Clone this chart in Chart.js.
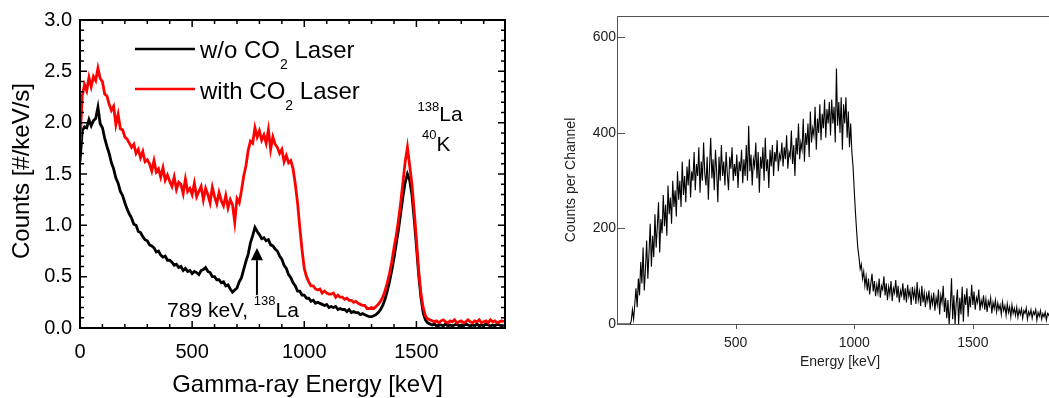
<!DOCTYPE html>
<html lang="en">

<head>
  <meta charset="UTF-8" />
  <title>Gamma-ray spectra</title>
  <style>
    html,
    body {
      margin: 0;
      padding: 0;
      background: #fff;
      overflow: hidden;
    }

    body {
      position: relative;
      width: 1049px;
      height: 398px;
    }

    .panel {
      position: absolute;
      top: 0;
    }

    #leftPanel {
      left: 0;
    }

    #rightPanel {
      left: 560px;
    }
  </style>
</head>

<body>
  <div class="panel" id="leftPanel"><canvas id="leftChart" width="520" height="398"></canvas></div>
  <div class="panel" id="rightPanel"><canvas id="rightChart" width="503" height="398"></canvas></div>

  <script src="https://cdn.jsdelivr.net/npm/chart.js"></script>
  <script>
    // ---- datos ----
    const leftBinKeV = 10;  // ancho de canal panel izquierdo (keV)
    const rightBinKeV = 5;  // ancho de canal panel derecho (keV)

    // panel izquierdo: Counts [#/keV/s], 0..1890 keV
    const withoutLaser = [
      1.62, 1.92, 1.96, 1.95, 2.03, 1.97, 2.02, 2.04, 2.15, 1.99,
      1.95, 1.85, 1.77, 1.70, 1.61, 1.55, 1.46, 1.41, 1.33, 1.29,
      1.22, 1.16, 1.11, 1.07, 1.01, 1.00, 0.94, 0.93, 0.89, 0.86,
      0.85, 0.81, 0.80, 0.78, 0.74, 0.75, 0.71, 0.69, 0.70, 0.66,
      0.66, 0.64, 0.61, 0.62, 0.59, 0.60, 0.56, 0.58, 0.55, 0.56,
      0.53, 0.55, 0.54, 0.52, 0.56, 0.57, 0.59, 0.55, 0.54, 0.50,
      0.50, 0.47, 0.47, 0.44, 0.45, 0.41, 0.42, 0.38, 0.35, 0.37,
      0.39, 0.45, 0.49, 0.57, 0.65, 0.72, 0.83, 0.90, 0.98, 0.94,
      0.91, 0.87, 0.88, 0.85, 0.86, 0.81, 0.80, 0.77, 0.75, 0.70,
      0.67, 0.61, 0.58, 0.52, 0.49, 0.44, 0.41, 0.36, 0.36, 0.32,
      0.32, 0.29, 0.29, 0.26, 0.27, 0.24, 0.25, 0.24, 0.23, 0.22,
      0.23, 0.20, 0.21, 0.20, 0.21, 0.18, 0.19, 0.18, 0.18, 0.16,
      0.18, 0.15, 0.16, 0.15, 0.15, 0.13, 0.14, 0.13, 0.12, 0.11,
      0.11, 0.12, 0.13, 0.15, 0.18, 0.22, 0.28, 0.36, 0.45, 0.56,
      0.68, 0.82, 0.96, 1.12, 1.28, 1.42, 1.50, 1.44, 1.30, 1.06,
      0.80, 0.52, 0.30, 0.15, 0.08, 0.05, 0.04, 0.03, 0.04, 0.02,
      0.03, 0.03, 0.02, 0.04, 0.02, 0.03, 0.02, 0.03, 0.04, 0.02,
      0.03, 0.02, 0.04, 0.03, 0.02, 0.03, 0.02, 0.04, 0.02, 0.03,
      0.02, 0.04, 0.03, 0.02, 0.03, 0.02, 0.04, 0.03, 0.02, 0.03
    ];

    const withLaser = [
      1.80, 2.26, 2.37, 2.31, 2.44, 2.35, 2.45, 2.41, 2.53, 2.43,
      2.40, 2.28, 2.26, 2.18, 2.12, 2.16, 1.98, 2.08, 1.94, 1.93,
      1.86, 1.84, 1.80, 1.76, 1.79, 1.70, 1.74, 1.66, 1.72, 1.62,
      1.64, 1.60, 1.53, 1.63, 1.52, 1.55, 1.47, 1.56, 1.44, 1.49,
      1.43, 1.38, 1.47, 1.35, 1.42, 1.40, 1.31, 1.45, 1.33, 1.36,
      1.30, 1.41, 1.28, 1.33, 1.38, 1.25, 1.36, 1.30, 1.22, 1.37,
      1.28, 1.21, 1.32, 1.24, 1.19, 1.29, 1.17, 1.25, 1.20, 1.03,
      1.26, 1.22, 1.34, 1.48, 1.58, 1.73, 1.82, 1.80, 1.95, 1.86,
      1.92, 1.83, 1.88, 1.80, 1.93, 1.74, 1.86, 1.79, 1.76, 1.70,
      1.74, 1.62, 1.68, 1.61, 1.63, 1.55, 1.40, 1.22, 0.98, 0.76,
      0.58, 0.50, 0.45, 0.41, 0.41, 0.38, 0.37, 0.38, 0.34, 0.36,
      0.34, 0.33, 0.33, 0.34, 0.30, 0.32, 0.30, 0.30, 0.28, 0.29,
      0.27, 0.27, 0.25, 0.26, 0.24, 0.23, 0.22, 0.22, 0.19, 0.19,
      0.20, 0.19, 0.21, 0.23, 0.26, 0.30, 0.36, 0.44, 0.53, 0.64,
      0.78, 0.90, 1.05, 1.22, 1.42, 1.62, 1.76, 1.58, 1.40, 1.14,
      0.86, 0.56, 0.34, 0.20, 0.12, 0.09, 0.08, 0.07, 0.06, 0.07,
      0.05, 0.07, 0.08, 0.06, 0.05, 0.07, 0.06, 0.08, 0.05, 0.06,
      0.07, 0.05, 0.06, 0.08, 0.06, 0.05, 0.07, 0.06, 0.08, 0.05,
      0.06, 0.07, 0.05, 0.08, 0.06, 0.07, 0.05, 0.06, 0.07, 0.06
    ];

    // panel derecho: Counts per Channel, 0..1875 keV
    const countsPerChannel = [
      0, 0, 0, 0, 0, 0, 0, 0, 0, 0,
      0, 0, 6, 30, 10, 42, 75, 35, 95, 60,
      130, 85, 160, 70, 115, 175, 95, 150, 210, 120,
      185, 140, 230, 160, 205, 255, 150, 220, 190, 270,
      205, 250, 185, 290, 230, 265, 210, 300, 245, 280,
      225, 320, 260, 300, 245, 340, 270, 310, 255, 330,
      290, 345, 265, 320, 300, 360, 280, 335, 310, 370,
      275, 340, 300, 380, 315, 290, 350, 260, 330, 390,
      305, 345, 280, 365, 320, 255, 350, 300, 375, 310,
      340, 290, 360, 315, 280, 350, 325, 370, 300, 335,
      310, 355, 285, 340, 320, 365, 295, 345, 310, 375,
      300, 415, 320, 355, 290, 345, 330, 380, 305, 360,
      275, 350, 325, 370, 300, 390, 320, 345, 285, 365,
      330, 375, 310, 360, 340, 385, 320, 355, 345, 380,
      330, 370, 345, 395, 325, 360, 350, 405, 335, 375,
      310, 390, 355, 420, 345, 380, 365, 430, 340, 400,
      375, 420, 350, 445, 380, 410, 395, 455, 365, 430,
      400, 460, 385, 440, 410, 470, 390, 450, 420, 465,
      395, 470, 420, 455, 380, 535, 415, 465, 400, 475,
      365, 460, 420, 475, 390, 445, 370, 420, 360, 330,
      280, 235, 195, 160, 140, 115, 125, 95, 110, 80,
      100, 70, 95, 62, 85, 105, 68, 90, 58, 82,
      65, 95, 55, 80, 72, 100, 60, 85, 50, 78,
      62, 90, 48, 75, 65, 92, 55, 80, 45, 70,
      60, 85, 50, 75, 45, 82, 58, 70, 40, 78,
      55, 72, 42, 88, 50, 68, 38, 80, 45, 65,
      35, 62, 48, 70, 30, 58, 42, 66, 28, 55,
      40, 72, 20, 60, 45, 80, 25, 55, 12, 50,
      0, 35, 96, 10, 60, 0, 45, 72, 0, 55,
      20, 78, 5, 62, 40, 75, 15, 58, 35, 82,
      40, 68, 30, 55, 45, 72, 28, 50, 38, 60,
      30, 52, 25, 48, 38, 55, 22, 45, 32, 50,
      25, 44, 30, 40, 20, 46, 28, 38, 18, 42,
      24, 36, 15, 40, 22, 33, 18, 35, 14, 30,
      20, 32, 12, 28, 22, 34, 10, 26, 18, 30,
      12, 26, 20, 30, 8, 24, 16, 28, 10, 22,
      15, 25, 8, 22, 18, 28, 6, 20, 14, 24,
      10, 20, 12, 26, 6, 18
    ];

    const leftXTicks = [0, 500, 1000, 1500];
    const leftYTicks = [0, 0.5, 1.0, 1.5, 2.0, 2.5, 3.0];
    const rightXTicks = [500, 1000, 1500];
    const rightYTicks = [0, 200, 400, 600];

    const FONT = "'Liberation Sans', Arial, Helvetica, sans-serif";

    function toPoints(values, bin) {
      return values.map((v, i) => ({ x: i * bin, y: v }));
    }

    // texto con super/subíndices
    function drawRich(ctx, x, y, parts) {
      ctx.textAlign = "left";
      ctx.textBaseline = "alphabetic";
      parts.forEach(([txt, size, dy]) => {
        ctx.font = size + "px " + FONT;
        ctx.fillText(txt, x, y + (dy || 0));
        x += ctx.measureText(txt).width;
      });
    }

    // ---- panel izquierdo ----
    const leftDecor = {
      id: "leftDecor",
      afterDatasetsDraw(chart) {
        const { ctx, chartArea: a, scales } = chart;
        const xs = scales.x, ys = scales.y;
        ctx.save();
        ctx.strokeStyle = "#000";
        ctx.fillStyle = "#000";

        // marco
        ctx.lineWidth = 2;
        ctx.strokeRect(a.left, a.top, a.right - a.left, a.bottom - a.top);

        // ticks hacia dentro en los 4 lados
        ctx.lineWidth = 1.5;
        ctx.beginPath();
        for (let e = 0; e <= 1800; e += 100) {
          const px = xs.getPixelForValue(e);
          const len = e % 500 === 0 ? 7 : 4;
          ctx.moveTo(px, a.bottom); ctx.lineTo(px, a.bottom - len);
          ctx.moveTo(px, a.top); ctx.lineTo(px, a.top + len);
        }
        for (let k = 0; k <= 30; k++) {
          const py = ys.getPixelForValue(k / 10);
          const len = k % 5 === 0 ? 7 : 4;
          ctx.moveTo(a.left, py); ctx.lineTo(a.left + len, py);
          ctx.moveTo(a.right, py); ctx.lineTo(a.right - len, py);
        }
        ctx.stroke();

        // leyenda
        const lx = a.left + 55;
        ctx.lineWidth = 2.5;
        ctx.strokeStyle = "#000";
        ctx.beginPath(); ctx.moveTo(lx, a.top + 29); ctx.lineTo(lx + 60, a.top + 29); ctx.stroke();
        ctx.strokeStyle = "#ff0000";
        ctx.beginPath(); ctx.moveTo(lx, a.top + 69); ctx.lineTo(lx + 60, a.top + 69); ctx.stroke();
        drawRich(ctx, lx + 65, a.top + 38, [["w/o CO", 24], ["2", 14, 11], [" Laser", 24]]);
        drawRich(ctx, lx + 65, a.top + 79, [["with CO", 24], ["2", 14, 11], [" Laser", 24]]);

        // anotaciones
        drawRich(ctx, xs.getPixelForValue(1505), ys.getPixelForValue(2.02), [["138", 13, -10], ["La", 21]]);
        drawRich(ctx, xs.getPixelForValue(1525), ys.getPixelForValue(1.72), [["40", 13, -12], ["K", 21]]);
        drawRich(ctx, xs.getPixelForValue(388), ys.getPixelForValue(0.106), [["789 keV, ", 21], ["138", 13, -12], ["La", 21]]);

        // flecha 789 keV
        const ax = xs.getPixelForValue(789);
        const yTail = ys.getPixelForValue(0.32), yTip = ys.getPixelForValue(0.78), yBase = ys.getPixelForValue(0.66);
        ctx.strokeStyle = "#000";
        ctx.lineWidth = 2;
        ctx.beginPath(); ctx.moveTo(ax, yTail); ctx.lineTo(ax, yBase); ctx.stroke();
        ctx.beginPath();
        ctx.moveTo(ax, yTip); ctx.lineTo(ax - 6, yBase); ctx.lineTo(ax + 6, yBase); ctx.closePath();
        ctx.fill();

        // títulos de ejes
        ctx.font = "24px " + FONT;
        ctx.textAlign = "center";
        ctx.textBaseline = "middle";
        ctx.fillText("Gamma-ray Energy [keV]", (a.left + a.right) / 2 + 15, a.bottom + 57);
        ctx.save();
        ctx.translate(22, (a.top + a.bottom) / 2 - 3);
        ctx.rotate(-Math.PI / 2);
        ctx.fillText("Counts [#/keV/s]", 0, 0);
        ctx.restore();

        ctx.restore();
      }
    };

    new Chart(document.getElementById("leftChart"), {
      type: "line",
      data: {
        datasets: [
          {
            label: "with CO2 Laser",
            data: toPoints(withLaser, leftBinKeV),
            borderColor: "#ff0000",
            borderWidth: 2.8,
            pointRadius: 0,
            tension: 0,
            order: 0
          },
          {
            label: "w/o CO2 Laser",
            data: toPoints(withoutLaser, leftBinKeV),
            borderColor: "#000000",
            borderWidth: 2.8,
            pointRadius: 0,
            tension: 0,
            order: 1
          }
        ]
      },
      options: {
        responsive: false,
        animation: false,
        layout: { padding: { top: 18, right: 15, left: 0, bottom: 0 } },
        plugins: { legend: { display: false }, tooltip: { enabled: false } },
        scales: {
          x: {
            type: "linear",
            min: 0,
            max: 1895,
            afterFit: (s) => { s.height = 70; },
            afterBuildTicks: (s) => { s.ticks = leftXTicks.map((v) => ({ value: v })); },
            grid: { display: false, drawTicks: false },
            border: { display: false },
            ticks: {
              padding: 12,
              color: "#000",
              maxRotation: 0,
              font: { family: FONT, size: 20 },
              callback: (v) => String(v)
            }
          },
          y: {
            min: 0,
            max: 3,
            afterFit: (s) => { s.width = 80; },
            afterBuildTicks: (s) => { s.ticks = leftYTicks.map((v) => ({ value: v })); },
            grid: { display: false, drawTicks: false },
            border: { display: false },
            ticks: {
              padding: 8,
              color: "#000",
              font: { family: FONT, size: 20 },
              callback: (v) => Number(v).toFixed(1)
            }
          }
        }
      },
      plugins: [leftDecor]
    });

    // ---- panel derecho ----
    const rightDecor = {
      id: "rightDecor",
      afterDatasetsDraw(chart) {
        const { ctx, chartArea: a, scales } = chart;
        const xs = scales.x, ys = scales.y;
        ctx.save();
        ctx.strokeStyle = "#555";
        ctx.lineWidth = 1;
        ctx.beginPath();
        ctx.moveTo(a.left + 0.5, a.top + 0.5); ctx.lineTo(a.right, a.top + 0.5);
        ctx.moveTo(a.left + 0.5, a.top); ctx.lineTo(a.left + 0.5, a.bottom + 0.5);
        ctx.moveTo(a.left, a.bottom + 0.5); ctx.lineTo(a.right, a.bottom + 0.5);
        rightYTicks.forEach((v) => {
          const py = Math.round(ys.getPixelForValue(v)) + 0.5;
          ctx.moveTo(a.left, py); ctx.lineTo(a.left + 8, py);
        });
        rightXTicks.forEach((v) => {
          const px = Math.round(xs.getPixelForValue(v)) + 0.5;
          ctx.moveTo(px, a.bottom); ctx.lineTo(px, a.bottom + 5);
        });
        ctx.stroke();

        ctx.fillStyle = "#222";
        ctx.font = "14px " + FONT;
        ctx.textAlign = "center";
        ctx.textBaseline = "middle";
        ctx.fillText("Energy [keV]", (a.left + a.right) / 2, a.bottom + 38);
        ctx.save();
        ctx.translate(11, (a.top + a.bottom) / 2 + 10);
        ctx.rotate(-Math.PI / 2);
        ctx.fillText("Counts per Channel", 0, 0);
        ctx.restore();
        ctx.restore();
      }
    };

    new Chart(document.getElementById("rightChart"), {
      type: "line",
      data: {
        datasets: [
          {
            label: "Counts per Channel",
            data: toPoints(countsPerChannel, rightBinKeV),
            borderColor: "#000000",
            borderWidth: 1.1,
            pointRadius: 0,
            tension: 0
          }
        ]
      },
      options: {
        responsive: false,
        animation: false,
        layout: { padding: { top: 16, right: 0, left: 0, bottom: 0 } },
        plugins: { legend: { display: false }, tooltip: { enabled: false } },
        scales: {
          x: {
            type: "linear",
            min: 0,
            max: 1880,
            afterFit: (s) => { s.height = 74; },
            afterBuildTicks: (s) => { s.ticks = rightXTicks.map((v) => ({ value: v })); },
            grid: { display: false, drawTicks: false },
            border: { display: false },
            ticks: {
              padding: 11,
              color: "#222",
              maxRotation: 0,
              font: { family: FONT, size: 14 },
              callback: (v) => String(v)
            }
          },
          y: {
            min: 0,
            max: 645,
            afterFit: (s) => { s.width = 57; },
            afterBuildTicks: (s) => { s.ticks = rightYTicks.map((v) => ({ value: v })); },
            grid: { display: false, drawTicks: false },
            border: { display: false },
            ticks: { padding: 1, color: "#222", font: { family: FONT, size: 14 } }
          }
        }
      },
      plugins: [rightDecor]
    });
  </script>
</body>

</html>
